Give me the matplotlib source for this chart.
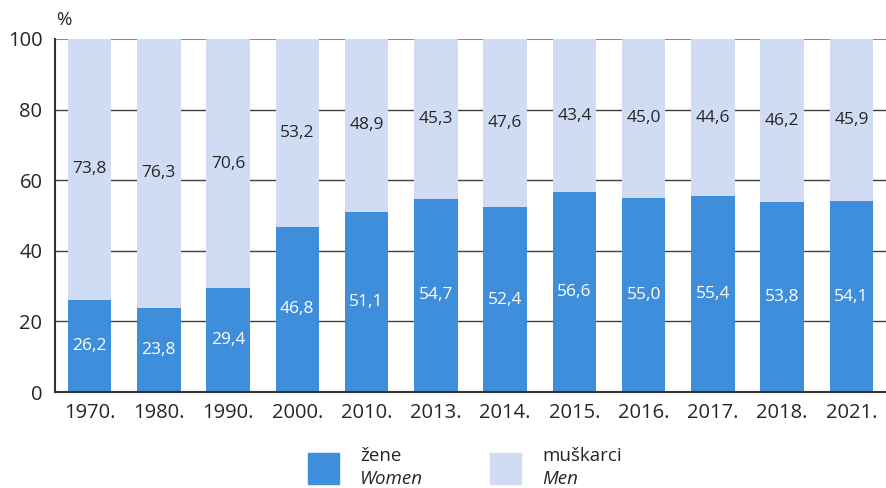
import matplotlib
matplotlib.use("Agg")
import matplotlib.pyplot as plt
from matplotlib.patches import Rectangle

years = ["1970.", "1980.", "1990.", "2000.", "2010.", "2013.", "2014.", "2015.", "2016.", "2017.", "2018.", "2021."]
women = [26.2, 23.8, 29.4, 46.8, 51.1, 54.7, 52.4, 56.6, 55.0, 55.4, 53.8, 54.1]
men = [73.8, 76.3, 70.6, 53.2, 48.9, 45.3, 47.6, 43.4, 45.0, 44.6, 46.2, 45.9]
yticks = [0, 20, 40, 60, 80, 100]

c_women = "#3F8EDC"
c_men = "#D0DCF4"
txt = "#262626"

plt.rcParams['font.family'] = ['Open Sans', 'DejaVu Sans']

fig = plt.figure(figsize=(8.86, 4.88), dpi=100)
ax = fig.add_axes([55/886, 96/488, 1 - 55/886, (392-39)/488])

x = list(range(len(years)))
w = 0.63
ax.bar(x, women, width=w, color=c_women, zorder=2)
ax.bar(x, men, width=w, bottom=women, color=c_men, zorder=2)

def fmt(v):
    return f"{v:.1f}".replace(".", ",")

for i in x:
    ax.text(i, women[i]/2, fmt(women[i]), ha="center", va="center", color="white", fontsize=12.5, zorder=3)
    ax.text(i, women[i] + men[i]/2, fmt(men[i]), ha="center", va="center", color=txt, fontsize=12.5, zorder=3)

ax.set_xlim(-0.5, len(years) - 0.5)
ax.set_ylim(0, 100)
ax.set_yticks(yticks)
ax.set_yticklabels([str(t) for t in yticks])
ax.set_xticks(x)
ax.set_xticklabels(years)
ax.tick_params(axis="both", length=0, labelsize=14.5, colors=txt)
ax.tick_params(axis="y", pad=9)
ax.tick_params(axis="x", pad=8)

for t in yticks[1:-1]:
    ax.axhline(t, color="#404040", lw=1.0, zorder=1)
ax.axhline(100, color="#8a8a8a", lw=1.5, zorder=1)

for s in ["top", "right"]:
    ax.spines[s].set_visible(False)
for s in ["left", "bottom"]:
    ax.spines[s].set_color("#333333")
    ax.spines[s].set_linewidth(1.5)
    ax.spines[s].set_zorder(4)

fig.text(56/886, 1 - 20/488, "%", fontsize=13.5, color=txt, ha="left", va="center")

# legend
def fx(px): return px/886
def fy(py): return 1 - py/488
fig.patches.append(Rectangle((fx(308), fy(484)), 31/886, 31/488, transform=fig.transFigure, color=c_women, figure=fig))
fig.patches.append(Rectangle((fx(490), fy(484)), 31/886, 31/488, transform=fig.transFigure, color=c_men, figure=fig))
fig.text(fx(360), fy(456), "žene", fontsize=13.5, color=txt, ha="left", va="center")
fig.text(fx(360), fy(479), "Women", fontsize=13.5, color=txt, ha="left", va="center", style="italic")
fig.text(fx(542), fy(456), "muškarci", fontsize=13.5, color=txt, ha="left", va="center")
fig.text(fx(542), fy(479), "Men", fontsize=13.5, color=txt, ha="left", va="center", style="italic")

fig.savefig("out.png", dpi=100)
